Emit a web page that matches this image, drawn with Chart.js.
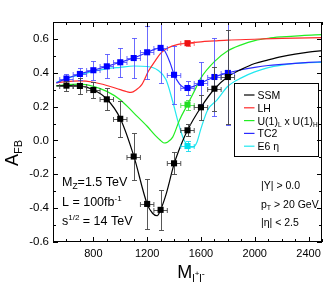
<!DOCTYPE html>
<html>
<head>
<meta charset="utf-8">
<script src="https://cdn.jsdelivr.net/npm/chart.js@4.4.1/dist/chart.umd.min.js"></script>
<style>
  body { margin: 0; background: #fff; }
</style>
</head>
<body>
<canvas id="myChart" width="327" height="298"></canvas>
<script>
// Forward-backward asymmetry vs dilepton mass

// binned pseudo-data (mass bins in GeV, half width 50)
const massBins = [600, 700, 800, 900, 1000, 1100, 1200, 1300, 1400, 1500, 1600, 1700, 1800];
const binHalfWidth = 50;
const ssmPoints = [0.324, 0.322, 0.298, 0.243, 0.128, -0.095, -0.375, -0.41, -0.135, 0.06, 0.196, 0.306, 0.375];
const ssmErrors = [0.03, 0.045, 0.05, 0.065, 0.105, 0.14, 0.15, 0.12, 0.065, 0.035, 0.075, 0.13, 0.28];
const tc2Points = [0.366, 0.393, 0.415, 0.438, 0.462, 0.487, 0.521, 0.547, 0.388, 0.31, 0.34, 0.375, 0.399];
const tc2Errors = [0.028, 0.036, 0.055, 0.07, 0.085, 0.12, 0.155, 0.21, 0.17, 0.04, 0.125, 0.23, 0.31];

// the other models only have the point at the Z' mass
const peakMass = [1500];
const lhPoint = [0.575];
const lhError = [0.015];
const u1Point = [0.212];
const u1Error = [0.03];
const e6Point = [-0.033];
const e6Error = [0.03];

// theory curves
const ssmCurveMass = [525, 600, 700, 800, 900, 1000, 1100, 1200, 1240, 1275, 1300, 1340, 1400, 1450, 1500, 1600, 1700, 1800, 1900, 2000, 2100, 2200, 2300, 2400, 2500];
const ssmCurve = [0.322, 0.324, 0.322, 0.30, 0.245, 0.13, -0.09, -0.375, -0.43, -0.445, -0.41, -0.32, -0.14, -0.03, 0.06, 0.196, 0.304, 0.376, 0.42, 0.455, 0.476, 0.495, 0.51, 0.522, 0.531];

const lhCurveMass = [525, 600, 700, 800, 900, 1000, 1050, 1080, 1120, 1160, 1210, 1260, 1300, 1350, 1430, 1500, 1600, 1700, 1800, 2000, 2200, 2500];
const lhCurve = [0.34, 0.348, 0.352, 0.344, 0.325, 0.30, 0.288, 0.284, 0.30, 0.33, 0.41, 0.47, 0.515, 0.545, 0.568, 0.575, 0.583, 0.588, 0.593, 0.598, 0.603, 0.608];

const u1CurveMass = [525, 600, 700, 800, 900, 1000, 1100, 1200, 1260, 1300, 1325, 1350, 1390, 1440, 1500, 1550, 1600, 1700, 1800, 1900, 2000, 2100, 2200, 2350, 2500];
const u1Curve = [0.322, 0.33, 0.333, 0.32, 0.29, 0.241, 0.163, 0.084, 0.03, 0.0, -0.015, -0.01, 0.02, 0.12, 0.212, 0.29, 0.37, 0.466, 0.53, 0.565, 0.59, 0.604, 0.612, 0.62, 0.625];

const tc2CurveMass = [525, 600, 700, 800, 900, 1000, 1100, 1200, 1260, 1300, 1330, 1370, 1400, 1440, 1490, 1540, 1600, 1700, 1800, 1900, 2000, 2100, 2200, 2300, 2400, 2500];
const tc2Curve = [0.34, 0.366, 0.393, 0.415, 0.438, 0.462, 0.487, 0.52, 0.54, 0.547, 0.53, 0.46, 0.39, 0.335, 0.31, 0.318, 0.34, 0.375, 0.399, 0.418, 0.432, 0.443, 0.45, 0.456, 0.461, 0.465];

const e6CurveMass = [525, 600, 700, 800, 900, 1000, 1100, 1200, 1280, 1340, 1390, 1430, 1470, 1510, 1540, 1570, 1600, 1650, 1720, 1800, 1900, 2000, 2100, 2200, 2300, 2400, 2500];
const e6Curve = [0.343, 0.366, 0.388, 0.408, 0.423, 0.432, 0.44, 0.437, 0.415, 0.36, 0.23, 0.11, 0.01, -0.035, -0.04, -0.01, 0.07, 0.18, 0.24, 0.32, 0.37, 0.405, 0.43, 0.445, 0.455, 0.46, 0.462];

const FONT = '"Liberation Sans", Arial, Helvetica, sans-serif';

function toXY(xs, ys) {
    return xs.map((x, i) => ({x: x, y: ys[i]}));
}

// draw text made of pieces [text, size, dy]
function richText(ctx, x, y, parts) {
    parts.forEach(p => {
        ctx.font = p[1] + 'px ' + FONT;
        ctx.fillText(p[0], x, y + (p[2] || 0));
        x += ctx.measureText(p[0]).width;
    });
    return x;
}
function richWidth(ctx, parts) {
    let w = 0;
    parts.forEach(p => {
        ctx.font = p[1] + 'px ' + FONT;
        w += ctx.measureText(p[0]).width;
    });
    return w;
}

function curve(label, xs, ys, color) {
    return {
        label: label,
        data: toXY(xs, ys),
        showLine: true,
        borderColor: color,
        borderWidth: 1.2,
        pointRadius: 0,
        fill: false,
        cubicInterpolationMode: 'monotone'
    };
}
function points(label, xs, ys, errs, color, errColor) {
    return {
        label: label,
        data: toXY(xs, ys),
        errors: errs,
        errorColor: errColor,
        showLine: false,
        pointStyle: 'rect',
        pointRadius: 4.3,
        backgroundColor: color,
        borderColor: color,
        borderWidth: 0
    };
}

// error bars drawn just before each point dataset
const errorBars = {
    id: 'errorBars',
    beforeDatasetDraw(chart, args) {
        const ds = chart.data.datasets[args.index];
        if (!ds.errors) return;
        const xs = chart.scales.x, ys = chart.scales.y, a = chart.chartArea;
        const ctx = chart.ctx;
        ctx.save();
        ctx.beginPath();
        ctx.rect(a.left, a.top, a.right - a.left, a.bottom - a.top);
        ctx.clip();
        ctx.strokeStyle = ds.errorColor;
        ctx.lineWidth = 1;
        ctx.beginPath();
        ds.data.forEach((p, i) => {
            const px = Math.round(xs.getPixelForValue(p.x)) + 0.5;
            const py = Math.round(ys.getPixelForValue(p.y)) + 0.5;
            const x0 = xs.getPixelForValue(p.x - binHalfWidth);
            const x1 = xs.getPixelForValue(p.x + binHalfWidth);
            const y0 = Math.round(ys.getPixelForValue(p.y - ds.errors[i])) + 0.5;
            const y1 = Math.round(ys.getPixelForValue(p.y + ds.errors[i])) + 0.5;
            ctx.moveTo(x0, py); ctx.lineTo(x1, py);
            ctx.moveTo(x0, py - 2.5); ctx.lineTo(x0, py + 2.5);
            ctx.moveTo(x1, py - 2.5); ctx.lineTo(x1, py + 2.5);
            ctx.moveTo(px, y0); ctx.lineTo(px, y1);
            ctx.moveTo(px - 2.5, y0); ctx.lineTo(px + 2.5, y0);
            ctx.moveTo(px - 2.5, y1); ctx.lineTo(px + 2.5, y1);
        });
        ctx.stroke();
        ctx.restore();
    }
};

// frame, inward ticks on all sides, titles, legend and notes
const decorations = {
    id: 'decorations',
    afterDraw(chart) {
        const ctx = chart.ctx, a = chart.chartArea;
        const xs = chart.scales.x, ys = chart.scales.y;
        ctx.save();
        ctx.strokeStyle = '#000';
        ctx.lineWidth = 1;
        ctx.strokeRect(a.left + 0.5, a.top + 0.5, a.right - a.left - 1, a.bottom - a.top - 1);
        ctx.beginPath();
        xs.ticks.forEach(t => {
            const px = Math.round(xs.getPixelForValue(t.value)) + 0.5;
            const len = t.value % 400 === 0 ? 5 : 3;
            ctx.moveTo(px, a.bottom); ctx.lineTo(px, a.bottom - len);
            ctx.moveTo(px, a.top); ctx.lineTo(px, a.top + len);
        });
        ys.ticks.forEach(t => {
            const py = Math.round(ys.getPixelForValue(t.value)) + 0.5;
            const len = Math.round(t.value * 10) % 2 === 0 ? 5 : 3;
            ctx.moveTo(a.left, py); ctx.lineTo(a.left + len, py);
            ctx.moveTo(a.right, py); ctx.lineTo(a.right - len, py);
        });
        ctx.stroke();

        ctx.fillStyle = '#000';
        ctx.textBaseline = 'alphabetic';
        ctx.textAlign = 'left';

        // y title, rotated
        ctx.save();
        ctx.translate(18, 166);
        ctx.rotate(-Math.PI / 2);
        richText(ctx, 0, 0, [['A', 18], ['FB', 11, 4]]);
        ctx.restore();

        // x title
        const xt = [['M', 18], ['l', 11, 4], ['+', 8, -2], ['l', 11, 4], ['-', 9, -1]];
        richText(ctx, 191 - richWidth(ctx, xt) / 2, 278, xt);

        // model notes, lower left
        const lx = a.left + 9;
        richText(ctx, lx, a.top + 164, [['M', 12.5], ['Z', 8.5, 3], ['=1.5 TeV', 12.5]]);
        richText(ctx, lx, a.top + 183.5, [['L = 100fb', 12.5], ['-1', 8, -5]]);
        richText(ctx, lx, a.top + 203, [['s', 12.5], ['1/2', 8, -5], [' = 14 TeV', 12.5]]);

        // cuts, lower right
        const rx = a.left + 208;
        richText(ctx, rx, a.top + 167, [['|Y| > 0.0', 10.5]]);
        richText(ctx, rx, a.top + 185.5, [['p', 10.5], ['T', 7, 2], [' > 20 GeV', 10.5]]);
        richText(ctx, rx, a.top + 204, [['|\u03b7| < 2.5', 10.5]]);

        // legend box
        const bx = a.right - 87.5, by = a.top + 61.5;
        ctx.strokeRect(bx, by, 84, 73);
        const entries = [
            ['#000000', [['SSM', 10.5]]],
            ['#ff2a2a', [['LH', 10.5]]],
            ['#22ee22', [['U(1)', 10.5], ['L', 6.5, 2], [' x U(1)', 10.5], ['H', 6.5, 2]]],
            ['#2a2aff', [['TC2', 10.5]]],
            ['#22e8f0', [['E6 \u03b7', 10.5]]]
        ];
        entries.forEach((e, i) => {
            const cy = by + 11.5 + i * 12.8;
            ctx.strokeStyle = e[0];
            ctx.lineWidth = 1.2;
            ctx.beginPath();
            ctx.moveTo(bx + 9.5, cy); ctx.lineTo(bx + 20, cy);
            ctx.stroke();
            richText(ctx, bx + 23, cy + 4, e[1]);
        });
        ctx.restore();
    }
};

const ctx = document.getElementById('myChart');
const myChart = new Chart(ctx, {
    type: 'scatter',
    data: {
        datasets: [
            points('SSM data', massBins, ssmPoints, ssmErrors, '#000000', 'rgba(70,70,70,0.9)'),
            points('TC2 data', massBins, tc2Points, tc2Errors, '#0000ff', 'rgba(70,70,255,0.8)'),
            points('LH data', peakMass, lhPoint, lhError, '#ee1111', 'rgba(255,80,80,0.8)'),
            points('U1 data', peakMass, u1Point, u1Error, '#22dd22', 'rgba(60,220,60,0.8)'),
            points('E6 data', peakMass, e6Point, e6Error, '#00e0ee', 'rgba(0,215,235,0.8)'),
            curve('SSM', ssmCurveMass, ssmCurve, '#000000'),
            curve('TC2', tc2CurveMass, tc2Curve, '#2a2aff'),
            curve('LH', lhCurveMass, lhCurve, '#ff2a2a'),
            curve('U(1)L x U(1)H', u1CurveMass, u1Curve, '#22ee22'),
            curve('E6 eta', e6CurveMass, e6Curve, '#22e8f0')
        ]
    },
    options: {
        responsive: false,
        animation: false,
        layout: { padding: { top: 22, right: 2, left: 0, bottom: 0 } },
        scales: {
            x: {
                type: 'linear',
                min: 500,
                max: 2500,
                grid: { display: false, drawTicks: false },
                border: { display: false },
                ticks: {
                    stepSize: 100,
                    autoSkip: false,
                    maxRotation: 0,
                    padding: 5,
                    color: '#000',
                    font: { family: FONT, size: 11 },
                    callback: v => (v % 400 === 0 ? String(v) : '')
                },
                afterFit: s => { s.height = 56; }
            },
            y: {
                min: -0.6,
                max: 0.7,
                grid: { display: false, drawTicks: false },
                border: { display: false },
                ticks: {
                    stepSize: 0.1,
                    autoSkip: false,
                    padding: 4,
                    color: '#000',
                    font: { family: FONT, size: 11.5 },
                    callback: v => (Math.round(v * 10) % 2 === 0 ? v.toFixed(1) : '')
                },
                afterFit: s => { s.width = 53; }
            }
        },
        plugins: {
            legend: { display: false },
            tooltip: { enabled: false }
        }
    },
    plugins: [errorBars, decorations]
});
</script>
</body>
</html>
